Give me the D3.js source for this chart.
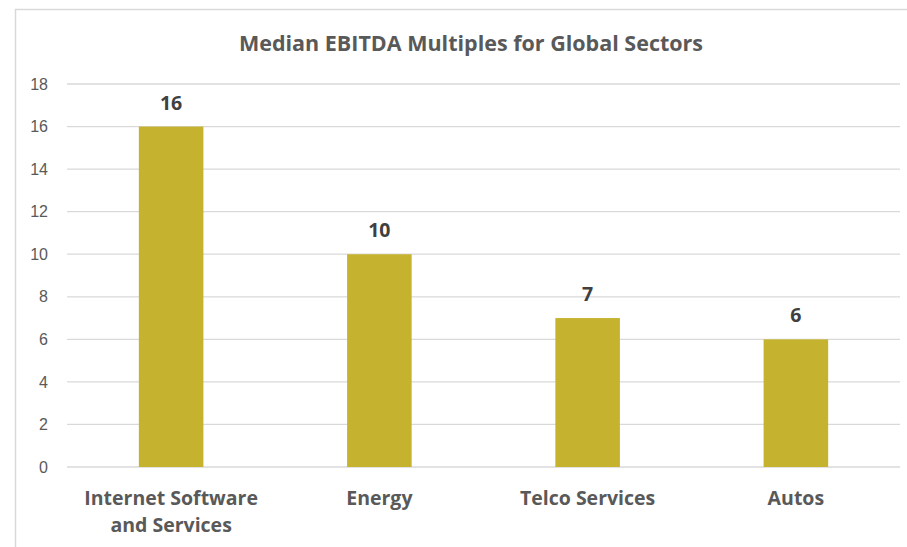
<!DOCTYPE html>
<html>
<head>
<meta charset="utf-8">
<script src="https://cdn.jsdelivr.net/npm/d3@7"></script>
<style>
	body { margin: 0; background: #fff; }
	svg { display: block; font-family: 'Open Sans', 'Noto Sans', sans-serif; }
	.grid-line { stroke: #d9d9d9; stroke-width: 1.3; }
	.y-axis text { fill: #595959; font-size: 16px; }
	.x-label { fill: #595959; font-size: 19.5px; font-weight: 700; }
	.bar-value { fill: #404040; font-size: 19.5px; font-weight: 700; }
</style>
</head>
<body>
<div id="chart-container"></div>
<script>
const title = 'Median EBITDA Multiples for Global Sectors';
const sectors = [
	['Internet Software', 'and Services'],
	['Energy'],
	['Telco Services'],
	['Autos'],
];
const multiples = [16, 10, 7, 6];
const yTicks = [0, 2, 4, 6, 8, 10, 12, 14, 16, 18];

const fullWidth = 907,
	fullHeight = 547;
const margin = { top: 84, right: 7, bottom: 80, left: 67 };
const width = fullWidth - margin.left - margin.right,
	height = fullHeight - margin.top - margin.bottom;

const root = d3
	.select('#chart-container')
	.append('svg')
	.attr('width', fullWidth)
	.attr('height', fullHeight);

// chart frame (only left and top edges are visible in the crop)
root
	.append('path')
	.attr('d', 'M15.5,' + fullHeight + 'V9.5H' + fullWidth)
	.style('fill', 'none')
	.style('stroke', '#d9d9d9')
	.style('stroke-width', 1.5);

root
	.append('text')
	.attr('x', 471)
	.attr('y', 51)
	.attr('text-anchor', 'middle')
	.style('fill', '#595959')
	.style('font-size', '21.5px')
	.style('font-weight', 700)
	.text(title);

const svg = root
	.append('g')
	.attr('transform', 'translate(' + margin.left + ',' + margin.top + ')');

const keys = sectors.map(d => d.join(' '));

const x = d3.scaleBand().domain(keys).range([0, width]).paddingInner(0.69).paddingOuter(0.345);
const y = d3.scaleLinear().domain([0, 18]).range([height, 0]);

svg
	.append('g')
	.selectAll('line')
	.data(yTicks)
	.enter()
	.append('line')
	.attr('class', 'grid-line')
	.attr('x1', 0)
	.attr('x2', width)
	.attr('y1', d => y(d))
	.attr('y2', d => y(d));

const yAxis = d3.axisLeft(y).tickValues(yTicks).tickSize(0).tickPadding(0);
svg
	.append('g')
	.attr('class', 'y-axis')
	.attr('transform', 'translate(-19,0)')
	.call(yAxis)
	.call(g => g.select('.domain').remove());

svg
	.append('g')
	.selectAll('rect')
	.data(multiples)
	.enter()
	.append('rect')
	.attr('x', (d, i) => x(keys[i]))
	.attr('y', d => y(d))
	.attr('width', x.bandwidth())
	.attr('height', d => height - y(d))
	.style('fill', '#c5b330');

svg
	.append('g')
	.selectAll('text')
	.data(multiples)
	.enter()
	.append('text')
	.attr('class', 'bar-value')
	.attr('x', (d, i) => x(keys[i]) + x.bandwidth() / 2)
	.attr('y', d => y(d) - 17)
	.attr('text-anchor', 'middle')
	.text(d => d);

const labels = svg
	.append('g')
	.selectAll('text')
	.data(sectors)
	.enter()
	.append('text')
	.attr('class', 'x-label')
	.attr('text-anchor', 'middle')
	.attr('x', (d, i) => x(keys[i]) + x.bandwidth() / 2)
	.attr('y', height + 38);

labels
	.selectAll('tspan')
	.data(d => d)
	.enter()
	.append('tspan')
	.attr('x', function () {
		return this.parentNode.getAttribute('x');
	})
	.attr('dy', (d, i) => (i ? 27 : 0))
	.text(d => d);
</script>
</body>
</html>
